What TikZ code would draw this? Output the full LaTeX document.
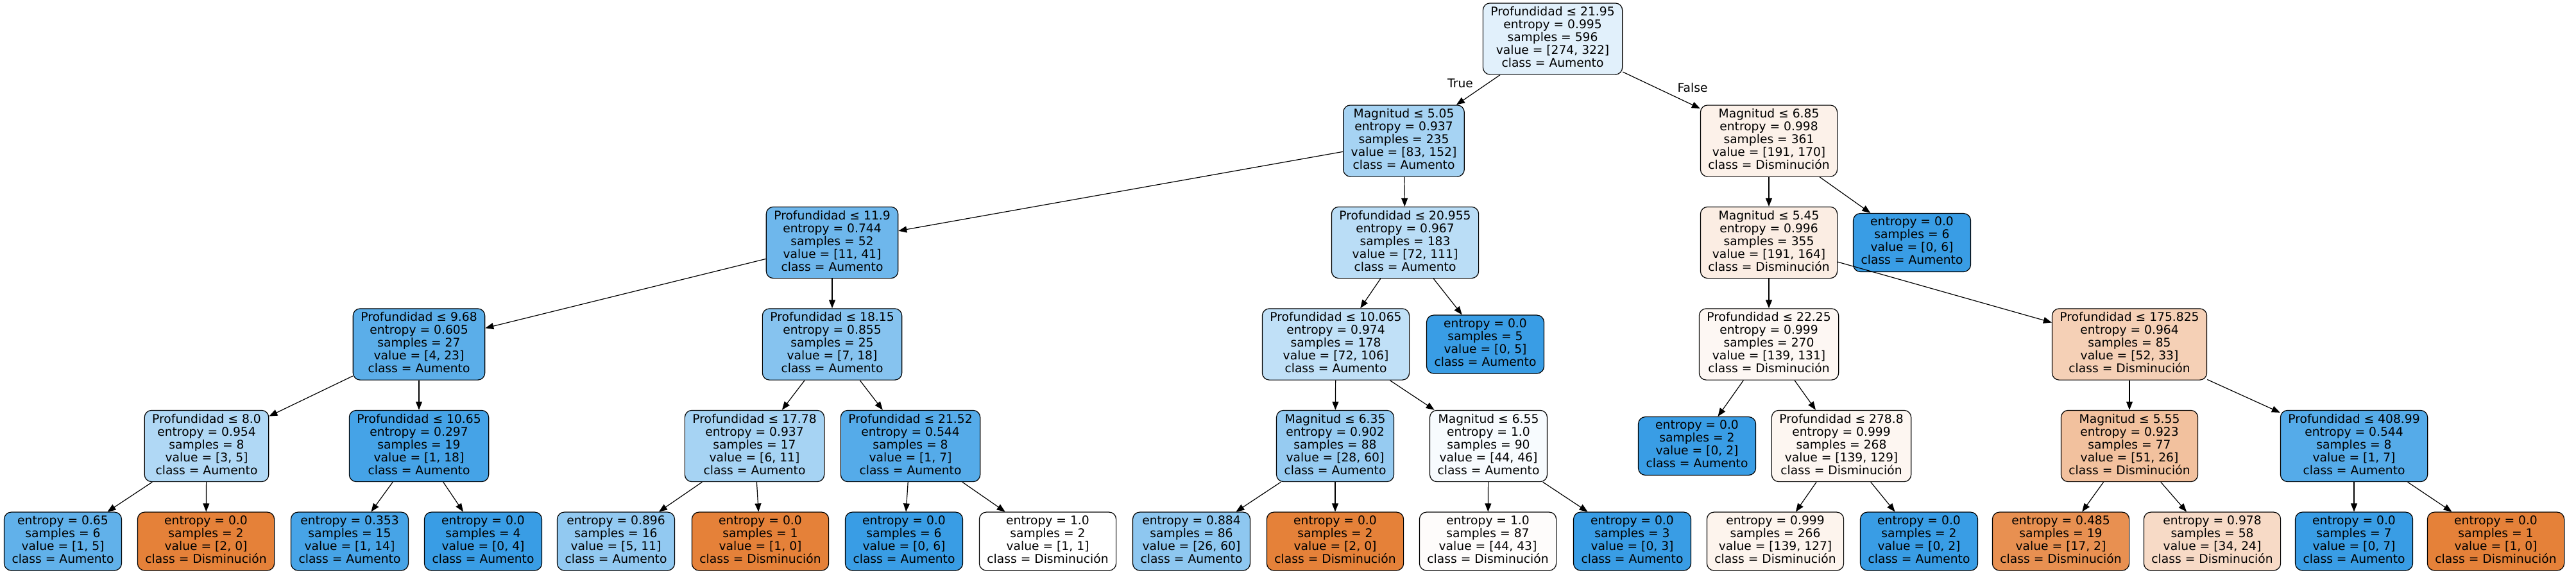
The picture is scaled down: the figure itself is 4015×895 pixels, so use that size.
\documentclass[tikz,border=0pt]{standalone}
\usepackage{fontspec}
\setmainfont{DejaVu Sans}
\usetikzlibrary{arrows.meta}

\definecolor{aumento}{RGB}{57,157,229}
\definecolor{disminucion}{RGB}{229,129,57}

\tikzset{
  treebox/.style={draw, line width=1.2pt, rounded corners=11pt, align=center,
    inner xsep=12pt, inner ysep=5.5pt, font=\fontsize{18.7}{20}\selectfont,
    execute at begin node=\strut, execute at end node=\strut},
  branch/.style={-{Triangle[length=13pt,width=10pt]}, line width=1.2pt},
  branchlabel/.style={font=\fontsize{18.7}{20}\selectfont}
}

\begin{document}
\begin{tikzpicture}[x=1pt,y=-1pt]
    \useasboundingbox (0,0) rectangle (4015,895);
    % Root
    \node[treebox, fill=aumento!15!white] (n0) at (2420,60.5) {Profundidad ≤ 21.95\\entropy = 0.995\\samples = 596\\value = [274, 322]\\class = Aumento};
    % Depth 1
    \node[treebox, fill=aumento!45!white] (n1) at (2188,219.5) {Magnitud ≤ 5.05\\entropy = 0.937\\samples = 235\\value = [83, 152]\\class = Aumento};
    \node[treebox, fill=disminucion!11!white] (n26) at (2757,219.5) {Magnitud ≤ 6.85\\entropy = 0.998\\samples = 361\\value = [191, 170]\\class = Disminución};
    % Depth 2
    \node[treebox, fill=aumento!73!white] (n2) at (1297,378) {Profundidad ≤ 11.9\\entropy = 0.744\\samples = 52\\value = [11, 41]\\class = Aumento};
    \node[treebox, fill=aumento!35!white] (n17) at (2190,378) {Profundidad ≤ 20.955\\entropy = 0.967\\samples = 183\\value = [72, 111]\\class = Aumento};
    \node[treebox, fill=disminucion!14!white] (n27) at (2757,378) {Magnitud ≤ 5.45\\entropy = 0.996\\samples = 355\\value = [191, 164]\\class = Disminución};
    \node[treebox, fill=aumento] (n40) at (2980,378) {entropy = 0.0\\samples = 6\\value = [0, 6]\\class = Aumento};
    % Depth 3
    \node[treebox, fill=aumento!83!white] (n3) at (653,536.5) {Profundidad ≤ 9.68\\entropy = 0.605\\samples = 27\\value = [4, 23]\\class = Aumento};
    \node[treebox, fill=aumento!61!white] (n10) at (1297,536.5) {Profundidad ≤ 18.15\\entropy = 0.855\\samples = 25\\value = [7, 18]\\class = Aumento};
    \node[treebox, fill=aumento!32!white] (n18) at (2082,536.5) {Profundidad ≤ 10.065\\entropy = 0.974\\samples = 178\\value = [72, 106]\\class = Aumento};
    \node[treebox, fill=aumento] (n25) at (2315,536.5) {entropy = 0.0\\samples = 5\\value = [0, 5]\\class = Aumento};
    \node[treebox, fill=disminucion!6!white] (n28) at (2757,536.5) {Profundidad ≤ 22.25\\entropy = 0.999\\samples = 270\\value = [139, 131]\\class = Disminución};
    \node[treebox, fill=disminucion!37!white] (n33) at (3319,536.5) {Profundidad ≤ 175.825\\entropy = 0.964\\samples = 85\\value = [52, 33]\\class = Disminución};
    % Depth 4
    \node[treebox, fill=aumento!40!white] (n4) at (322,695) {Profundidad ≤ 8.0\\entropy = 0.954\\samples = 8\\value = [3, 5]\\class = Aumento};
    \node[treebox, fill=aumento!94!white] (n7) at (653,695) {Profundidad ≤ 10.65\\entropy = 0.297\\samples = 19\\value = [1, 18]\\class = Aumento};
    \node[treebox, fill=aumento!45!white] (n11) at (1176,695) {Profundidad ≤ 17.78\\entropy = 0.937\\samples = 17\\value = [6, 11]\\class = Aumento};
    \node[treebox, fill=aumento!86!white] (n14) at (1419,695) {Profundidad ≤ 21.52\\entropy = 0.544\\samples = 8\\value = [1, 7]\\class = Aumento};
    \node[treebox, fill=aumento!53!white] (n19) at (2081,695) {Magnitud ≤ 6.35\\entropy = 0.902\\samples = 88\\value = [28, 60]\\class = Aumento};
    \node[treebox, fill=aumento!4!white] (n22) at (2320,695) {Magnitud ≤ 6.55\\entropy = 1.0\\samples = 90\\value = [44, 46]\\class = Aumento};
    \node[treebox, fill=aumento] (n29) at (2645,695) {entropy = 0.0\\samples = 2\\value = [0, 2]\\class = Aumento};
    \node[treebox, fill=disminucion!7!white] (n30) at (2870,695) {Profundidad ≤ 278.8\\entropy = 0.999\\samples = 268\\value = [139, 129]\\class = Disminución};
    \node[treebox, fill=disminucion!49!white] (n34) at (3319,695) {Magnitud ≤ 5.55\\entropy = 0.923\\samples = 77\\value = [51, 26]\\class = Disminución};
    \node[treebox, fill=aumento!86!white] (n37) at (3669,695) {Profundidad ≤ 408.99\\entropy = 0.544\\samples = 8\\value = [1, 7]\\class = Aumento};
    % Depth 5 (leaves)
    \node[treebox, fill=aumento!80!white] (n5) at (98,843.5) {entropy = 0.65\\samples = 6\\value = [1, 5]\\class = Aumento};
    \node[treebox, fill=disminucion] (n6) at (321,843.5) {entropy = 0.0\\samples = 2\\value = [2, 0]\\class = Disminución};
    \node[treebox, fill=aumento!93!white] (n8) at (545,843.5) {entropy = 0.353\\samples = 15\\value = [1, 14]\\class = Aumento};
    \node[treebox, fill=aumento] (n9) at (753,843.5) {entropy = 0.0\\samples = 4\\value = [0, 4]\\class = Aumento};
    \node[treebox, fill=aumento!55!white] (n12) at (960,843.5) {entropy = 0.896\\samples = 16\\value = [5, 11]\\class = Aumento};
    \node[treebox, fill=disminucion] (n13) at (1185,843.5) {entropy = 0.0\\samples = 1\\value = [1, 0]\\class = Disminución};
    \node[treebox, fill=aumento] (n15) at (1409,843.5) {entropy = 0.0\\samples = 6\\value = [0, 6]\\class = Aumento};
    \node[treebox, fill=white] (n16) at (1633,843.5) {entropy = 1.0\\samples = 2\\value = [1, 1]\\class = Disminución};
    \node[treebox, fill=aumento!57!white] (n20) at (1857,843.5) {entropy = 0.884\\samples = 86\\value = [26, 60]\\class = Aumento};
    \node[treebox, fill=disminucion] (n21) at (2081,843.5) {entropy = 0.0\\samples = 2\\value = [2, 0]\\class = Disminución};
    \node[treebox, fill=disminucion!2!white] (n23) at (2319,843.5) {entropy = 1.0\\samples = 87\\value = [44, 43]\\class = Disminución};
    \node[treebox, fill=aumento] (n24) at (2544,843.5) {entropy = 0.0\\samples = 3\\value = [0, 3]\\class = Aumento};
    \node[treebox, fill=disminucion!9!white] (n31) at (2767,843.5) {entropy = 0.999\\samples = 266\\value = [139, 127]\\class = Disminución};
    \node[treebox, fill=aumento] (n32) at (2991,843.5) {entropy = 0.0\\samples = 2\\value = [0, 2]\\class = Aumento};
    \node[treebox, fill=disminucion!88!white] (n35) at (3212,843.5) {entropy = 0.485\\samples = 19\\value = [17, 2]\\class = Disminución};
    \node[treebox, fill=disminucion!29!white] (n36) at (3448,843.5) {entropy = 0.978\\samples = 58\\value = [34, 24]\\class = Disminución};
    \node[treebox, fill=aumento] (n38) at (3669,843.5) {entropy = 0.0\\samples = 7\\value = [0, 7]\\class = Aumento};
    \node[treebox, fill=disminucion] (n39) at (3890,843.5) {entropy = 0.0\\samples = 1\\value = [1, 0]\\class = Disminución};
    % Branches
    \draw[branch] (n0) -- (n1);
    \draw[branch] (n0) -- (n26);
    \node[branchlabel] (lbltrue) at (2276,130) {True};
    \node[branchlabel] (lblfalse) at (2638,137) {False};
    \draw[branch] (n1) -- (n2);
    \draw[branch] (n1) -- (n17);
    \draw[branch] (n26) -- (n27);
    \draw[branch] (n26) -- (n40);
    \draw[branch] (n2) -- (n3);
    \draw[branch] (n2) -- (n10);
    \draw[branch] (n17) -- (n18);
    \draw[branch] (n17) -- (n25);
    \draw[branch] (n27) -- (n28);
    \draw[branch] (n27) -- (n33);
    \draw[branch] (n3) -- (n4);
    \draw[branch] (n3) -- (n7);
    \draw[branch] (n10) -- (n11);
    \draw[branch] (n10) -- (n14);
    \draw[branch] (n18) -- (n19);
    \draw[branch] (n18) -- (n22);
    \draw[branch] (n28) -- (n29);
    \draw[branch] (n28) -- (n30);
    \draw[branch] (n33) -- (n34);
    \draw[branch] (n33) -- (n37);
    \draw[branch] (n4) -- (n5);
    \draw[branch] (n4) -- (n6);
    \draw[branch] (n7) -- (n8);
    \draw[branch] (n7) -- (n9);
    \draw[branch] (n11) -- (n12);
    \draw[branch] (n11) -- (n13);
    \draw[branch] (n14) -- (n15);
    \draw[branch] (n14) -- (n16);
    \draw[branch] (n19) -- (n20);
    \draw[branch] (n19) -- (n21);
    \draw[branch] (n22) -- (n23);
    \draw[branch] (n22) -- (n24);
    \draw[branch] (n30) -- (n31);
    \draw[branch] (n30) -- (n32);
    \draw[branch] (n34) -- (n35);
    \draw[branch] (n34) -- (n36);
    \draw[branch] (n37) -- (n38);
    \draw[branch] (n37) -- (n39);
\end{tikzpicture}
\end{document}
